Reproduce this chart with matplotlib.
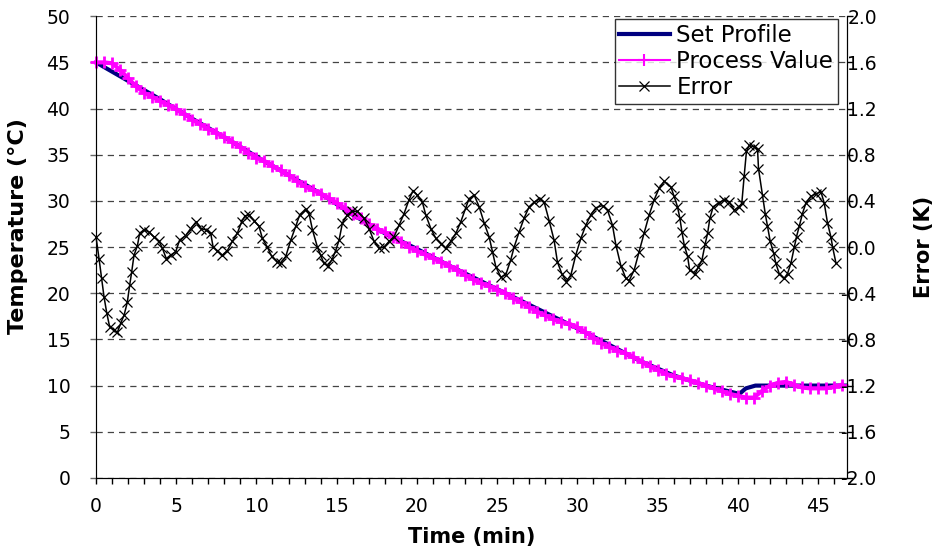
### Temperature ramp: set profile, process value and control error ##########
import matplotlib
matplotlib.use('Agg')
import matplotlib.pyplot as plt
import numpy as np
from matplotlib.ticker import MultipleLocator, FormatStrFormatter

# set profile (min, degC)
set_time = [0, 2, 4, 6, 8, 10, 12, 14, 16, 18, 20, 22, 24, 26, 28, 30, 32, 34, 36, 38, 40.1, 40.5, 41.1, 46.8]
set_temp = [45.0, 43.0, 41.0, 38.9, 36.9, 34.8, 32.8, 30.8, 28.5, 26.5, 24.8, 23.0, 21.3, 19.6, 17.9,
	16.2, 14.4, 12.6, 11.1, 10.0, 9.1, 9.7, 10.0, 10.0]

# process value, logged every 30 s
pv_time = [i*0.5 for i in range(94)]
pv_temp = [45.0, 45.0, 44.9, 44.2, 43.3, 42.4, 41.7, 41.3, 40.8, 40.4,
	39.9, 39.4, 38.8, 38.3, 37.8, 37.4, 36.9, 36.4, 35.8, 35.2,
	34.7, 34.3, 33.8, 33.3, 32.8, 32.2, 31.6, 31.2, 30.8, 30.3,
	29.8, 29.2, 28.6, 28.1, 27.5, 27.0, 26.6, 26.1, 25.6, 25.0,
	24.6, 24.2, 23.8, 23.4, 23.0, 22.5, 22.0, 21.5, 21.1, 20.8,
	20.4, 20.0, 19.5, 19.0, 18.5, 18.0, 17.6, 17.2, 16.9, 16.7,
	16.3, 15.8, 15.2, 14.6, 14.2, 13.8, 13.5, 13.1, 12.6, 12.1,
	11.7, 11.3, 11.0, 10.8, 10.6, 10.3, 10.0, 9.7, 9.4, 9.1,
	8.9, 8.7, 8.7, 9.4, 10.0, 10.3, 10.4, 10.1, 9.8, 9.7,
	9.7, 9.7, 9.9, 10.1]

# control error (min, K)
err_time = [0.0, 0.19, 0.35, 0.5, 0.67, 0.85, 1.12, 1.33, 1.54, 1.75, 1.95, 2.1, 2.22, 2.37, 2.58, 2.72,
	3.0, 3.3, 3.6, 3.93, 4.14, 4.38, 4.65, 4.97, 5.21, 5.59, 5.9, 6.25, 6.52, 6.84, 7.15, 7.3,
	7.56, 7.87, 8.19, 8.5, 8.81, 9.08, 9.29, 9.54, 9.85, 10.16, 10.37, 10.68, 10.95, 11.3, 11.5,
	11.83, 12.14, 12.45, 12.7, 13.07, 13.28, 13.49, 13.8, 14.0, 14.2, 14.48, 14.74, 14.94, 15.15,
	15.36, 15.67, 15.98, 16.29, 16.71, 17.02, 17.33, 17.64, 17.96, 18.27, 18.58, 18.89, 19.2,
	19.51, 19.76, 20.03, 20.34, 20.55, 20.87, 21.18, 21.49, 21.8, 22.11, 22.43, 22.74, 23.05,
	23.25, 23.57, 23.88, 24.19, 24.5, 24.71, 24.92, 25.23, 25.54, 25.85, 26.06, 26.37, 26.68,
	27.0, 27.31, 27.66, 27.93, 28.24, 28.55, 28.76, 29.03, 29.32, 29.6, 29.9, 30.22, 30.53,
	30.84, 31.15, 31.57, 31.88, 32.19, 32.4, 32.71, 33.02, 33.23, 33.54, 33.85, 34.16, 34.48,
	34.79, 35.1, 35.41, 35.83, 36.03, 36.24, 36.39, 36.52, 36.66, 36.87, 37.0, 37.35, 37.55,
	37.77, 37.97, 38.12, 38.26, 38.47, 38.8, 39.15, 39.46, 39.78, 40.09, 40.25, 40.4, 40.54,
	40.71, 41.02, 41.23, 41.29, 41.54, 41.71, 41.85, 42.02, 42.23, 42.37, 42.58, 42.89, 43.1,
	43.31, 43.52, 43.66, 43.83, 44.03, 44.24, 44.55, 44.86, 45.18, 45.39, 45.59, 45.8, 45.91, 46.12]
err_val = [0.09, -0.10, -0.27, -0.43, -0.57, -0.69, -0.72, -0.74, -0.66, -0.59, -0.48, -0.33, -0.22,
	-0.07, 0.01, 0.12, 0.15, 0.13, 0.09, 0.05, -0.01, -0.10, -0.07, -0.04, 0.06, 0.10, 0.16, 0.22,
	0.16, 0.15, 0.12, 0.0, -0.03, -0.07, -0.03, 0.05, 0.12, 0.22, 0.27, 0.28, 0.23, 0.18, 0.075,
	0.0, -0.08, -0.13, -0.14, -0.08, 0.06, 0.18, 0.28, 0.33, 0.29, 0.15, 0.0, -0.07, -0.14, -0.16,
	-0.10, -0.03, 0.06, 0.21, 0.28, 0.31, 0.31, 0.25, 0.16, 0.05, -0.01, 0.0, 0.05, 0.09, 0.19,
	0.29, 0.41, 0.49, 0.45, 0.39, 0.28, 0.16, 0.075, 0.03, -0.01, 0.05, 0.12, 0.22, 0.34, 0.42,
	0.45, 0.35, 0.21, 0.09, -0.04, -0.17, -0.26, -0.24, -0.11, 0.0, 0.13, 0.25, 0.35, 0.39, 0.42,
	0.39, 0.23, 0.06, -0.13, -0.23, -0.30, -0.24, -0.07, 0.075, 0.19, 0.28, 0.34, 0.36, 0.32, 0.19,
	0.02, -0.16, -0.27, -0.29, -0.20, -0.04, 0.12, 0.28, 0.41, 0.51, 0.57, 0.52, 0.44, 0.35, 0.25,
	0.13, 0.02, -0.08, -0.20, -0.23, -0.17, -0.11, 0.03, 0.12, 0.25, 0.35, 0.38, 0.41, 0.39, 0.32,
	0.35, 0.38, 0.62, 0.83, 0.88, 0.87, 0.85, 0.68, 0.45, 0.29, 0.18, 0.05, -0.05, -0.14, -0.23,
	-0.27, -0.23, -0.14, 0.0, 0.09, 0.18, 0.29, 0.38, 0.44, 0.46, 0.48, 0.38, 0.21, 0.09, 0.0, -0.14]

def Main():
	plt.rcParams['font.family'] = ['DejaVu Sans']
	plt.rcParams['axes.unicode_minus'] = False

	fig = plt.figure(figsize=(9.41, 5.59), dpi=100)
	ax = fig.add_axes([0.102, 0.145, 0.798, 0.826])
	ax2 = ax.twinx()

	l1, = ax.plot(set_time, set_temp, color='#000080', lw=3.0, zorder=3)
	ax.plot(pv_time, pv_temp, color='#ff00ff', lw=3.0, zorder=4, clip_on=False)
	ax.plot(pv_time, pv_temp, color='#ff00ff', lw=0, marker='+', ms=9, mew=2.0, zorder=4, clip_on=False)
	l3, = ax2.plot(err_time, err_val, color='black', lw=1.1, marker='x', ms=7, mew=0.9, clip_on=False)
	l2 = plt.Line2D([], [], color='#ff00ff', lw=1.5, marker='+', ms=9, mew=1.5)

	ax.set_xlim(0, 46.8)
	ax.set_ylim(0, 50)
	ax2.set_ylim(-2.0, 2.0)

	ax.xaxis.set_major_locator(MultipleLocator(5))
	ax.xaxis.set_minor_locator(MultipleLocator(1))
	ax.yaxis.set_major_locator(MultipleLocator(5))
	ax2.yaxis.set_major_locator(MultipleLocator(0.4))
	ax2.yaxis.set_major_formatter(FormatStrFormatter('%.1f'))

	ax.yaxis.grid(True, color='#444444', ls=(0, (5, 4)), lw=0.9)
	ax.set_axisbelow(True)

	for a in (ax, ax2):
		a.spines['top'].set_visible(False)
		a.tick_params(axis='both', which='both', direction='out', labelsize=13.5, length=4.5, width=1)
	ax.spines['left'].set_color('#666666')
	ax.tick_params(axis='y', colors='#666666', labelcolor='black', pad=14)
	# right-hand labels are right aligned, negatives stick out to the left
	ax2.tick_params(axis='y', pad=17)
	for lab in ax2.get_yticklabels():
		lab.set_horizontalalignment('right')
	ax.tick_params(axis='x', which='minor', length=4.5)
	ax.tick_params(axis='x', pad=9)

	ax.set_xlabel('Time (min)', fontsize=15, fontweight='bold', labelpad=8)
	ax.set_ylabel('Temperature (°C)', fontsize=16, fontweight='bold')
	ax.yaxis.set_label_coords(-0.09, 0.545)
	ax2.set_ylabel('Error (K)', fontsize=15, fontweight='bold')
	ax2.yaxis.set_label_coords(1.09, 0.5)

	leg = ax2.legend([l1, l2, l3], ['Set Profile', 'Process Value', 'Error'],
		loc='upper right', bbox_to_anchor=(0.988, 0.994), fontsize=16.5, frameon=True, fancybox=False,
		borderpad=0.2, labelspacing=0.14, handlelength=2.2, handletextpad=0.3, borderaxespad=0)
	leg.get_frame().set_edgecolor('black')
	leg.get_frame().set_linewidth(1.0)

	plt.savefig('out.png', dpi=100)

Main()
